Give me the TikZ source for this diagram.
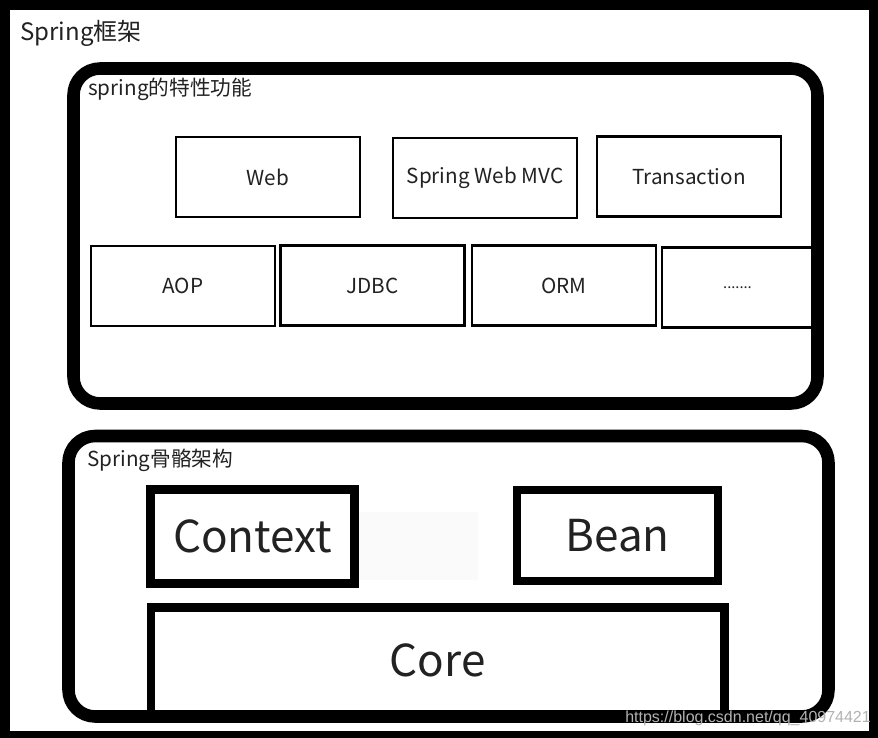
\documentclass[tikz,border=0pt]{standalone}
\usepackage{fontspec}
\setmainfont{Noto Sans CJK SC}
\newfontfamily\urlfont{Liberation Sans}
\usetikzlibrary{positioning}
\definecolor{ink}{RGB}{34,34,34}
\tikzset{
  modbox/.style={draw, line width=2.2pt, minimum width=138pt, minimum height=60pt,
    inner sep=0pt, text=ink, font=\fontsize{15.5}{17}\selectfont},
  corebox/.style={draw, line width=6.2pt, inner sep=0pt, text=ink,
    font=\fontsize{33}{38}\selectfont},
  layer/.style={line width=9.4pt, rounded corners=20pt},
  caption/.style={anchor=west, inner sep=0pt, text=ink}
}

\begin{document}
\begin{tikzpicture}[x=0.75pt, y=-0.75pt]
\useasboundingbox (0,0) rectangle (878,738);
% frame
\fill[black] (0,0) rectangle (878,738);
\fill[white] (10,10) rectangle (869,731);
\node[caption, font=\fontsize{18}{20}\selectfont] (title) at (20,33) {Spring框架};

% features
\node[caption, font=\fontsize{15.5}{17}\selectfont] (featcap) at (88,89) {spring的特性功能};
\foreach \nm/\cx/\cy/\txt in {web/268/177/Web, mvc/485/178/Spring Web MVC,
  tx/689/176.5/Transaction, aop/183/286/AOP, jdbc/372.5/285.5/JDBC, orm/564/285.5/ORM}
  \node[modbox] (\nm) at (\cx,\cy) {\txt};
\node[modbox, minimum width=113.25pt, font=\fontsize{11}{12}\selectfont] (more) at (737.5,287.5) {.......};
\draw[layer] (73.5,68.5) rectangle (817.5,403.5);

% skeleton
\node[caption, font=\fontsize{15.5}{17}\selectfont] (basecap) at (87,460) {Spring骨骼架构};
\fill[black!2] (357,512) rectangle (478,580);
\node[corebox, minimum width=153pt, minimum height=70.5pt] (context) at (252.5,536.5) {Context};
\node[corebox, minimum width=150.75pt, minimum height=68.25pt] (bean) at (617.5,535.5) {Bean};
\node[corebox, minimum width=430pt, minimum height=80pt] (core) at (437.75,660.75) {Core};
\draw[layer] (68.5,436) rectangle (828.5,716.5);

\node[anchor=west, inner sep=0pt, text=black!30, font=\urlfont\fontsize{12}{14}\selectfont] (url) at (625,718) {https://blog.csdn.net/qq\_40974421};
\end{tikzpicture}
\end{document}
